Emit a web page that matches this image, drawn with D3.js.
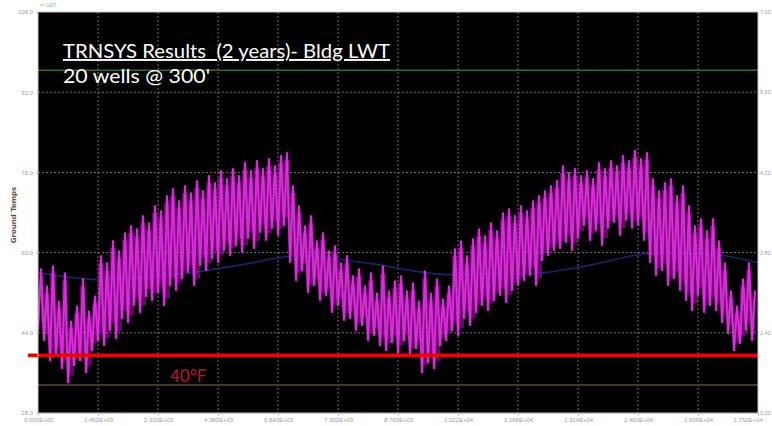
<!DOCTYPE html>
<html>
<head>
<meta charset="utf-8">
<script src="https://cdn.jsdelivr.net/npm/d3@7"></script>
<style>
body{margin:0;background:#fff}
svg{display:block}
.tick text{font-family:"Liberation Sans",sans-serif;fill:#a0a0a0}
</style>
</head>
<body>
<svg id="chart" width="772" height="426"></svg>
<script>
// x axis: simulation hours, 2 years
const xTicks=[0,1460,2920,4380,5840,7300,8760,10220,11680,13140,14600,16060,17520]
const xTickLabels=["0.000E+00","1.460E+03","2.920E+03","4.380E+03","5.840E+03","7.300E+03","8.760E+03","1.022E+04","1.168E+04","1.314E+04","1.460E+04","1.606E+04","1.752E+04"]
const leftTicks=[28,44,60,76,92,108]
const rightTicks=[0,1.4,2.8,4.2,5.6,7]

// LWT trace: troughs and peaks per 146 h slot
const slotHours=146
const lwtHigh=[56.8,53.4,57.4,50.4,56.0,46.4,49.4,54.8,48.4,51.4,59.4,58.0,62.4,60.4,64.0,65.4,64.8,67.4,66.0,69.4,
68.4,71.4,72.8,70.4,73.4,72.0,74.4,72.4,75.4,74.0,76.4,74.8,76.8,75.4,78.0,76.4,78.4,76.8,78.8,77.4,
79.4,80.0,73.4,69.4,65.4,67.4,62.4,64.0,60.4,61.4,58.0,59.4,55.4,56.8,53.4,56.0,52.0,57.4,52.4,54.4,
55.4,52.4,54.0,50.4,56.4,52.0,54.8,50.8,53.4,60.8,62.4,59.4,62.8,64.8,63.4,66.0,64.4,68.0,68.8,67.4,
69.4,68.4,70.4,71.4,72.4,73.4,74.4,77.4,76.0,76.8,75.4,76.4,74.8,78.0,76.8,78.4,77.4,79.4,78.4,80.4,
78.8,80.0,74.8,72.4,74.0,74.8,71.4,73.4,69.4,65.4,66.8,64.4,66.8,62.4,58.0,52.4,49.4,54.8,58.0,52.4]
const lwtLow=[44.4,42.4,38.4,39.4,36.8,34.0,37.4,38.4,36.0,40.4,42.4,41.4,44.4,42.8,46.8,46.0,49.4,48.0,51.2,50.4,
52.0,49.4,53.4,52.4,54.8,56.0,53.4,57.4,56.4,58.8,58.0,60.4,59.4,61.4,60.0,62.8,60.8,64.0,62.4,64.8,
63.4,65.4,58.0,54.4,56.4,52.0,53.4,50.4,51.4,48.0,49.4,46.4,46.8,44.4,45.4,42.4,43.4,41.4,40.4,42.0,
40.0,42.4,39.4,40.8,36.0,38.0,36.8,41.4,42.4,44.4,43.4,46.8,45.4,48.0,49.4,48.4,50.4,51.4,50.0,52.4,
53.4,54.4,55.4,53.4,58.4,59.4,60.4,60.8,62.0,60.4,62.8,65.4,62.4,64.4,61.4,64.8,66.0,63.4,66.4,64.8,
65.4,62.4,58.0,55.4,56.4,53.4,54.8,52.4,50.4,48.4,51.4,48.0,49.4,48.4,46.0,43.8,40.4,41.8,44.4,42.4]

// slow ground temperature curve
const groundHours=[0,1500,3700,4900,6400,8100,10000,12000,13500,14900,16100,17520]
const groundTemp=[56.0,54.6,56.0,57.5,59.4,57.8,55.6,55.8,57.6,59.8,59.8,58.0]

// flat reference lines
const upperLine=96.4
const lowerLine=33.6
const redLine=39.5

let pl=38,pr=758,pt=12,pb=413
const svg=d3.select("#chart")

const xscale=d3.scaleLinear().domain([0,17520]).range([pl,pr])
const yscale=d3.scaleLinear().domain([28,108]).range([pb,pt])
const y2scale=d3.scaleLinear().domain([0,7]).range([pb,pt])

svg.append("rect").attr("x",pl).attr("y",pt).attr("width",pr-pl).attr("height",pb-pt).attr("fill","#000")
svg.append("clipPath").attr("id","clip").append("rect").attr("x",pl).attr("y",pt).attr("width",pr-pl).attr("height",pb-pt)

// grid
svg.append("g").selectAll("line").data(xTicks.slice(1,-1)).enter().append("line")
  .attr("x1",d=>xscale(d)).attr("x2",d=>xscale(d)).attr("y1",pt).attr("y2",pb)
  .attr("stroke","#707070").attr("stroke-dasharray","2,2")
svg.append("g").selectAll("line").data(leftTicks.slice(1,-1)).enter().append("line")
  .attr("x1",pl).attr("x2",pr).attr("y1",d=>yscale(d)).attr("y2",d=>yscale(d))
  .attr("stroke","#707070").attr("stroke-dasharray","2,2")

const plot=svg.append("g").attr("clip-path","url(#clip)")
plot.append("line").attr("x1",pl).attr("x2",pr).attr("y1",yscale(upperLine)).attr("y2",yscale(upperLine))
  .attr("stroke","#2f6b2f").attr("stroke-width",1.5)
plot.append("line").attr("x1",pl).attr("x2",pr).attr("y1",yscale(lowerLine)).attr("y2",yscale(lowerLine))
  .attr("stroke","#4a352a").attr("stroke-width",2)

const ground=groundHours.map((h,i)=>[h,groundTemp[i]])
plot.append("path").datum(ground)
  .attr("d",d3.line().x(d=>xscale(d[0])).y(d=>yscale(d[1])).curve(d3.curveMonotoneX))
  .attr("fill","none").attr("stroke","#18226a").attr("stroke-width",1.6)

// envelope haze behind the spikes
const band=lwtHigh.map((v,i)=>[i*slotHours+slotHours/2,lwtLow[i],v])
plot.append("path").datum(band)
  .attr("d",d3.area().x(d=>xscale(d[0])).y0(d=>yscale(d[1]+1.5)).y1(d=>yscale(d[2]-1.5)).curve(d3.curveStep))
  .attr("fill","#a61ea6").attr("opacity",0.55)

const lwt=[]
lwtHigh.forEach((v,i)=>{
  lwt.push([i*slotHours,lwtLow[i]])
  lwt.push([i*slotHours+slotHours/2,v])
})
const lwtline=d3.line().x(d=>xscale(d[0])).y(d=>yscale(d[1]))
plot.append("path").datum(lwt).attr("d",lwtline)
  .attr("fill","none").attr("stroke","#c83ac8").attr("stroke-width",2.4).attr("opacity",0.8)
plot.append("path").datum(lwt).attr("d",lwtline)
  .attr("fill","none").attr("stroke","#ff1cff").attr("stroke-width",1)

// red 40F overlay
svg.append("line").attr("x1",28).attr("x2",pr).attr("y1",yscale(redLine)).attr("y2",yscale(redLine))
  .attr("stroke","#f00000").attr("stroke-width",3.5)
svg.append("text").attr("x",xscale(3212)).attr("y",yscale(redLine)+27)
  .attr("font-family","Lato, sans-serif").attr("font-size",17).attr("fill","#d01010").text("40°F")

// frame
svg.append("rect").attr("x",pl).attr("y",pt).attr("width",pr-pl).attr("height",pb-pt)
  .attr("fill","none").attr("stroke","#c8c8c8").attr("stroke-width",1)

// axes
const xaxis=d3.axisBottom(xscale).tickValues(xTicks).tickFormat((d,i)=>xTickLabels[i]).tickSize(3)
svg.append("g").attr("transform",`translate(0,${pb})`).call(xaxis)
  .call(g=>g.select(".domain").attr("stroke","#c8c8c8"))
  .call(g=>g.selectAll(".tick line").attr("stroke","#c8c8c8"))
  .call(g=>g.selectAll(".tick text").attr("font-size",6).attr("dy","0.5em"))
  .call(g=>g.selectAll(".tick:last-of-type text").attr("text-anchor","end").attr("dx",4))
const yaxis=d3.axisLeft(yscale).tickValues(leftTicks).tickFormat(d=>d.toFixed(1)).tickSize(2)
svg.append("g").attr("transform",`translate(${pl},0)`).call(yaxis)
  .call(g=>g.select(".domain").remove())
  .call(g=>g.selectAll(".tick line").attr("stroke","#c8c8c8"))
  .call(g=>g.selectAll(".tick text").attr("font-size",6))
const y2axis=d3.axisRight(y2scale).tickValues(rightTicks).tickFormat(d=>d.toFixed(2)).tickSize(1).tickPadding(1)
svg.append("g").attr("transform",`translate(${pr},0)`).call(y2axis)
  .call(g=>g.select(".domain").remove())
  .call(g=>g.selectAll(".tick line").attr("stroke","#c8c8c8"))
  .call(g=>g.selectAll(".tick text").attr("font-size",5.5))

svg.append("text").attr("transform","translate(16,215) rotate(-90)").attr("text-anchor","middle")
  .attr("font-family","DejaVu Sans, sans-serif").attr("font-size",7).attr("font-weight","bold")
  .attr("fill","#555").text("Ground Temps")

// little legend key
svg.append("line").attr("x1",40).attr("x2",45).attr("y1",5).attr("y2",5).attr("stroke","#8fd88f")
svg.append("text").attr("x",46).attr("y",7).attr("font-family","DejaVu Sans, sans-serif")
  .attr("font-size",5).attr("fill","#7cc87c").text("LWT")

// slide overlay titles
svg.append("text").attr("x",63).attr("y",58).attr("font-family","Lato, sans-serif").attr("font-size",19)
  .attr("fill","#fff").attr("text-decoration","underline").style("white-space","pre")
  .attr("textLength",327).attr("lengthAdjust","spacingAndGlyphs")
  .text("TRNSYS Results  (2 years)- Bldg LWT")
svg.append("text").attr("x",63).attr("y",83).attr("font-family","Lato, sans-serif").attr("font-size",19)
  .attr("fill","#fff").attr("textLength",147).attr("lengthAdjust","spacingAndGlyphs")
  .text("20 wells @ 300'")
</script>
</body>
</html>
